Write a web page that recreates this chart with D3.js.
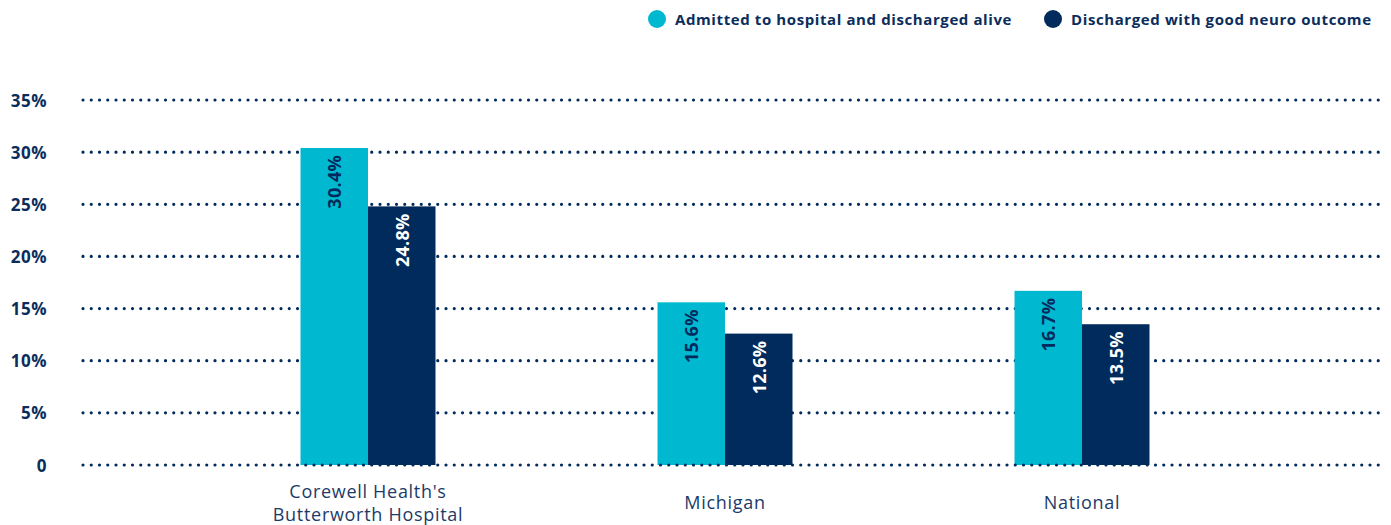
<!DOCTYPE html>
<html>
<head>
<meta charset="utf-8">
<script src="https://cdn.jsdelivr.net/npm/d3@7"></script>
<style>
  body { margin: 0; background: #fff; }
  svg { display: block; font-family: "Open Sans", "DejaVu Sans", sans-serif; }
</style>
</head>
<body>
<svg id="chart" width="1391" height="525"></svg>
<script>
// chart data
const categories = [["Corewell Health's", "Butterworth Hospital"], ["Michigan"], ["National"]];
const seriesNames = ["Admitted to hospital and discharged alive", "Discharged with good neuro outcome"];
const dischargedAlive = [30.4, 15.6, 16.7];
const goodNeuro = [24.8, 12.6, 13.5];
const yTicks = [0, 5, 10, 15, 20, 25, 30, 35];

const CYAN = '#00b9d1';
const NAVY = '#002b5c';
const TEXT = '#0b2d5b';

const svg = d3.select('#chart');

const y = d3.scaleLinear().domain([0, 35]).range([465, 100]);
const x0 = d3.scaleBand()
    .domain(d3.range(categories.length))
    .range([189.5, 1260.5]);
const x1 = d3.scaleBand()
    .domain([0, 1])
    .range([x0.bandwidth() / 2 - 67.5, x0.bandwidth() / 2 + 67.5]);

function dotted(sel) {
    sel.attr('x1', 83)
        .attr('x2', 1381)
        .attr('stroke', NAVY)
        .attr('stroke-width', 3.2)
        .attr('stroke-linecap', 'round')
        .attr('stroke-dasharray', '0 8.25');
}

// dotted grid lines
svg.append('g').attr('class', 'grid')
    .selectAll('line')
    .data(yTicks.filter(d => d > 0))
    .join('line')
    .attr('y1', d => y(d))
    .attr('y2', d => y(d))
    .call(dotted);

// y tick labels
svg.append('g')
    .selectAll('text')
    .data(yTicks)
    .join('text')
    .attr('x', 47)
    .attr('y', d => y(d))
    .attr('text-anchor', 'end')
    .attr('dominant-baseline', 'central')
    .attr('font-size', 17)
    .attr('font-weight', 'bold')
    .attr('letter-spacing', 0.5)
    .attr('fill', TEXT)
    .text(d => d === 0 ? '0' : d + '%');

// bars
const rows = categories.map((c, i) => ({ i, values: [dischargedAlive[i], goodNeuro[i]] }));
const groups = svg.append('g')
    .selectAll('g')
    .data(rows)
    .join('g')
    .attr('transform', d => `translate(${x0(d.i)},0)`);

groups.selectAll('rect')
    .data(d => d.values.map((v, k) => ({ k, v })))
    .join('rect')
    .attr('x', d => x1(d.k))
    .attr('width', x1.bandwidth())
    .attr('y', d => y(d.v))
    .attr('height', d => y(0) - y(d.v))
    .attr('fill', d => d.k === 0 ? CYAN : NAVY);

// value labels, rotated inside bars
groups.selectAll('text.val')
    .data(d => d.values.map((v, k) => ({ k, v })))
    .join('text')
    .attr('class', 'val')
    .attr('transform', d => `translate(${x1(d.k) + x1.bandwidth() / 2},${y(d.v) + 7}) rotate(-90)`)
    .attr('text-anchor', 'end')
    .attr('dominant-baseline', 'central')
    .attr('font-size', 18)
    .attr('font-weight', 'bold')
    .attr('letter-spacing', 0.3)
    .attr('fill', d => d.k === 0 ? NAVY : '#ffffff')
    .text(d => d.v.toFixed(1) + '%');

// zero baseline drawn over bars
svg.append('line')
    .attr('y1', y(0))
    .attr('y2', y(0))
    .call(dotted);

// category labels
svg.append('g')
    .selectAll('text')
    .data(rows)
    .join('text')
    .attr('x', d => x0(d.i) + x0.bandwidth() / 2)
    .attr('y', d => categories[d.i].length > 1 ? 491 : 502)
    .attr('text-anchor', 'middle')
    .attr('dominant-baseline', 'central')
    .attr('font-size', 18)
    .attr('letter-spacing', 0.7)
    .attr('fill', '#1c3b68')
    .selectAll('tspan')
    .data(d => categories[d.i])
    .join('tspan')
    .attr('x', function() { return d3.select(this.parentNode).attr('x'); })
    .attr('dy', (d, j) => j === 0 ? 0 : 23)
    .text(d => d);

// legend
const legendX = [657, 1053];
const legend = svg.append('g')
    .selectAll('g')
    .data(seriesNames)
    .join('g')
    .attr('transform', (d, i) => `translate(${legendX[i]},19)`);
legend.append('circle')
    .attr('r', 9)
    .attr('fill', (d, i) => i === 0 ? CYAN : NAVY);
legend.append('text')
    .attr('x', 18)
    .attr('dominant-baseline', 'central')
    .attr('font-size', 15)
    .attr('font-weight', 'bold')
    .attr('letter-spacing', 0.6)
    .attr('fill', TEXT)
    .text(d => d);
</script>
</body>
</html>
